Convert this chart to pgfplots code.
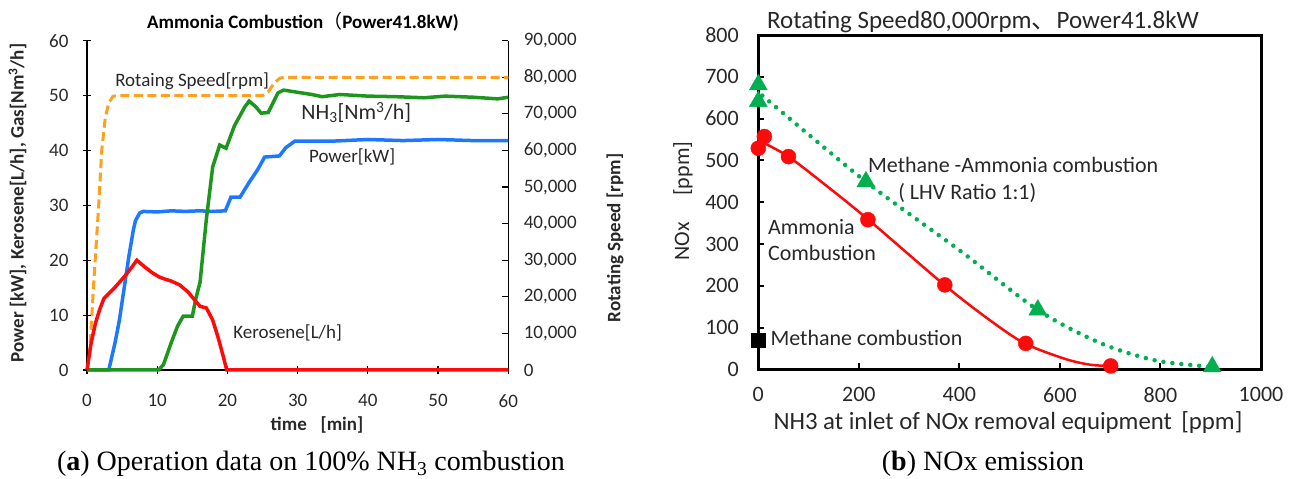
\documentclass[border=0pt]{standalone}
\usepackage{fontspec}
\setmainfont{Carlito}
\newfontfamily\capfont{Liberation Serif}
\newfontfamily\cjk{Noto Sans CJK JP}
\usepackage{pgfplots}
\pgfplotsset{compat=1.18}
\definecolor{cOrange}{RGB}{255,160,30}
\definecolor{cBlue}{RGB}{30,120,255}
\definecolor{cGreen}{RGB}{30,150,30}
\definecolor{cRed}{RGB}{255,10,10}
\definecolor{cGreenB}{RGB}{0,176,80}
\definecolor{txt}{RGB}{40,40,40}
\newcommand\fL{\fontsize{19}{23}\selectfont}
\newcommand\fR{\fontsize{22}{26}\selectfont}
\begin{document}
\begin{tikzpicture}[x=1pt,y=1pt]
% ---------------- left chart: rotating speed (right axis) ----------------
\begin{axis}[
  at={(87pt,109pt)}, anchor=south west,
  scale only axis, width=421.3pt, height=329.3pt,
  xmin=0, xmax=60, ymin=0, ymax=90000,
  axis y line*=right, axis x line=none,
  axis line style={black, line width=1.5pt, -},
  ytick={0,10000,...,90000},
  scaled y ticks=false,
  tick align=inside, major tick length=6pt,
  tick style={black, line width=1.2pt},
  tick label style={font=\fL, color=txt},
  yticklabel style={xshift=12pt, /pgf/number format/.cd, 1000 sep={,}},
  /pgf/number format/assume math mode=true,
  clip=false,
]
\addplot[cOrange, line width=3pt, dash pattern=on 9pt off 4.5pt] coordinates {
(0,0) (0.4,5000) (0.9,22000) (1.6,43000) (2.1,60000) (2.6,69000) (3.1,73000) (3.7,74800) (4.3,75000)
(25,75000) (25.8,76000) (26.7,78500) (27.5,79800) (28.5,80000) (60,80000)};
\end{axis}
% ---------------- left chart: main axis ----------------
\begin{axis}[
  at={(87pt,109pt)}, anchor=south west,
  scale only axis, width=421.3pt, height=329.3pt,
  xmin=0, xmax=60, ymin=0, ymax=60,
  axis x line*=bottom, axis y line*=left,
  axis line style={black, line width=1.5pt, -},
  xtick={0,10,...,60}, ytick={0,10,...,60},
  tick align=center, major tick length=8pt,
  tick style={black, line width=1.2pt},
  tick label style={font=\fL, color=txt},
  xticklabel style={yshift=-17pt},
  yticklabel style={xshift=-11pt},
  /pgf/number format/assume math mode=true,
  clip=false,
]
% Power
\addplot[cBlue, line width=3.5pt] coordinates {
(0,0) (3.1,0) (4,5) (4.6,9) (5.3,15) (6,21) (6.6,25.5) (6.9,27.2) (7.5,28.6) (8,28.9) (10,28.8) (12,29) (14,28.9)
(16,29) (18,28.9) (19.7,29) (20.5,31.5) (21.8,31.5) (23,34) (24.3,36.5) (25.3,38.8) (27.4,39) (28.3,40.5) (29.6,41.7)
(35,41.7) (40,42) (45,41.8) (50,42) (55,41.8) (60,41.8)};
% NH3
\addplot[cGreen, line width=3.5pt] coordinates {
(0,0) (10.2,0) (10.9,1) (12,5) (12.9,8) (13.7,9.8) (15,9.8) (15.5,13) (16.1,16) (17,27.5) (17.9,37) (18.9,41)
(19.8,40.4) (21,44.5) (22.5,48) (23.1,49) (24,48) (24.8,46.8) (25.8,46.9) (27.2,50.5) (28,51) (30,50.6) (32,50.2)
(33.5,49.8) (36,50.2) (40,49.9) (44,49.8) (48,49.6) (51,49.9) (55,49.7) (58.5,49.4) (60,49.7)};
% Kerosene
\addplot[cRed, line width=3.5pt] coordinates {
(0,0) (0.6,5) (1.2,8.5) (1.8,11) (2.4,13) (3,13.8) (3.8,14.8) (4.7,16.1) (5.5,17.3) (6.3,18.6) (7.1,20) (8.2,18.8)
(9.2,17.8) (10.2,17) (11,16.6) (12,16.2) (13.2,15.5) (14.4,14.2) (15.3,12.8) (16.1,11.6) (17,11.3) (17.9,9.1)
(18.7,5.8) (19.4,2.5) (19.9,0) (60,0)};
\node[anchor=west, inner sep=0, font=\fL, color=txt] at (axis cs:4.0,52.6) {Rotaing Speed[rpm]};
\node[anchor=west, inner sep=0, font=\fontsize{22}{26}\selectfont, color=txt] at (axis cs:30.5,46.9) {NH\textsubscript{3}[Nm\textsuperscript{3}/h]};
\node[anchor=west, inner sep=0, font=\fL, color=txt] at (axis cs:31.6,38.8) {Power[kW]};
\node[anchor=west, inner sep=0, font=\fL, color=txt] at (axis cs:20.8,6.7) {Kerosene[L/h]};
\end{axis}
% left chart titles and labels
\node[font=\bfseries\fontsize{19}{23}\selectfont, color=black] at (303,457) {Ammonia Combustion{\cjk\mdseries （}Power41.8kW)};
\node[rotate=90, font=\bfseries\fontsize{19}{23}\selectfont, color=txt] at (17.5,276) {Power [kW], Kerosene[L/h], Gas[Nm\textsuperscript{3}/h]};
\node[rotate=90, font=\bfseries\fontsize{19}{23}\selectfont, color=txt] at (615,241) {Rotating Speed [rpm]};
\node[font=\bfseries\fontsize{19}{23}\selectfont, color=txt] at (317,54) {time\hspace{0.5em} [min]};
% ---------------- right chart ----------------
\begin{axis}[
  at={(758.3pt,109.7pt)}, anchor=south west,
  scale only axis, width=502.7pt, height=334.3pt,
  xmin=0, xmax=1000, ymin=0, ymax=800,
  axis line style={black, line width=3pt},
  xtick={0,200,...,1000}, ytick={0,100,...,800},
  tick align=inside, major tick length=6pt,
  tick style={black, line width=2pt},
  xtick pos=bottom, ytick pos=left,
  tick label style={font=\fR, color=txt},
  xticklabel style={yshift=-14.5pt, /pgf/number format/.cd, 1000 sep={}},
  yticklabel style={xshift=-16pt},
  /pgf/number format/assume math mode=true,
  clip=false,
]
% Ammonia combustion fitted curve
\addplot[cRed, line width=2.5pt, smooth] coordinates {
(5,545) (60,509) (140,435) (220,357) (370,202) (460,118) (530,62) (610,25) (660,11) (700,8)};
\addplot[only marks, mark=*, mark size=7.5pt, cRed, mark options={fill=cRed, draw=cRed}] coordinates {
(0,529) (12,557) (60,509) (218,358) (371,202) (532,62) (701,8)};
% Methane-ammonia dotted curve
\addplot[cGreenB, line width=4.5pt, line cap=round, dash pattern=on 0pt off 9pt, smooth] coordinates {
(8,655) (214,449) (400,285) (556,142) (680,63) (787,22) (880,8) (900,5)};
\addplot[only marks, mark=triangle*, mark size=10.4pt, cGreenB, mark options={fill=cGreenB, draw=cGreenB}] coordinates {
(0,681) (0,641) (214,449) (556,142) (903,6)};
% Methane combustion
\addplot[only marks, mark=square*, mark size=7pt, black, mark options={fill=black}] coordinates {(0,70)};
\node[anchor=west, inner sep=0, font=\fR, color=txt] at (axis cs:218,489) {Methane -Ammonia combustion};
\node[anchor=west, inner sep=0, font=\fR, color=txt] at (axis cs:278,421) {( LHV Ratio 1:1)};
\node[anchor=west, inner sep=0, font=\fR, color=txt] at (axis cs:19,341.5) {Ammonia};
\node[anchor=west, inner sep=0, font=\fR, color=txt] at (axis cs:19,278) {Combustion};
\node[anchor=west, inner sep=0, font=\fR, color=txt] at (axis cs:24,74) {Methane combustion};
\end{axis}
\node[font=\fontsize{25}{29}\selectfont, color=txt] at (983,457) {Rotating Speed80,000rpm{\cjk 、}Power41.8kW};
\node[rotate=90, font=\fR, color=txt] at (683,278) {NOx\hspace{1.2em}[ppm]};
\node[font=\fontsize{24.8}{29}\selectfont, color=txt] at (1008,56) {NH3 at inlet of NOx removal equipment\hspace{0.15em} [ppm]};
% captions
\node[anchor=base, font=\capfont\fontsize{28}{32}\selectfont] at (311,8) {(\textbf{a}) Operation data on 100\% NH\textsubscript{3} combustion};
\node[anchor=base, font=\capfont\fontsize{28}{32}\selectfont] at (983,8) {(\textbf{b}) NOx emission};
\pgfresetboundingbox
\path[use as bounding box] (0,0) rectangle (1294,479);
\end{tikzpicture}
\end{document}
